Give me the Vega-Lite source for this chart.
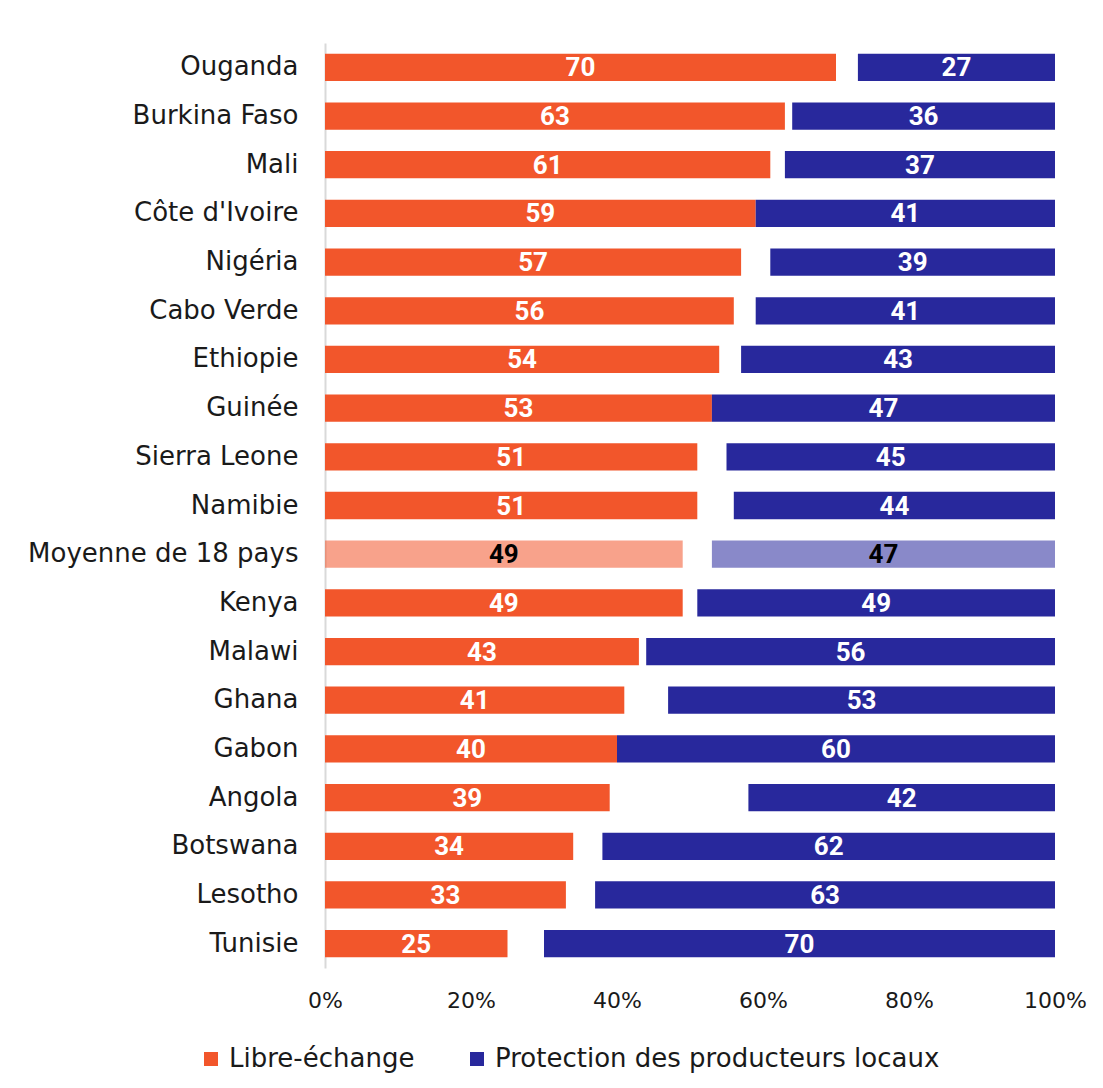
{
  "$schema": "https://vega.github.io/schema/vega-lite/v6.json",
  "width": 730,
  "height": 925,
  "autosize": {"type": "none"},
  "padding": {"left": 325, "top": 43, "right": 48, "bottom": 120},
  "background": "white",
  "config": {
    "view": {"stroke": null},
    "font": "DejaVu Sans"
  },
  "data": {
    "values": [
      {"pays": "Ouganda", "libre": 70, "protection": 27},
      {"pays": "Burkina Faso", "libre": 63, "protection": 36},
      {"pays": "Mali", "libre": 61, "protection": 37},
      {"pays": "Côte d'Ivoire", "libre": 59, "protection": 41},
      {"pays": "Nigéria", "libre": 57, "protection": 39},
      {"pays": "Cabo Verde", "libre": 56, "protection": 41},
      {"pays": "Ethiopie", "libre": 54, "protection": 43},
      {"pays": "Guinée", "libre": 53, "protection": 47},
      {"pays": "Sierra Leone", "libre": 51, "protection": 45},
      {"pays": "Namibie", "libre": 51, "protection": 44},
      {"pays": "Moyenne de 18 pays", "libre": 49, "protection": 47},
      {"pays": "Kenya", "libre": 49, "protection": 49},
      {"pays": "Malawi", "libre": 43, "protection": 56},
      {"pays": "Ghana", "libre": 41, "protection": 53},
      {"pays": "Gabon", "libre": 40, "protection": 60},
      {"pays": "Angola", "libre": 39, "protection": 42},
      {"pays": "Botswana", "libre": 34, "protection": 62},
      {"pays": "Lesotho", "libre": 33, "protection": 63},
      {"pays": "Tunisie", "libre": 25, "protection": 70}
    ]
  },
  "transform": [
    {"fold": ["libre", "protection"], "as": ["key", "valeur"]},
    {"calculate": "datum.key === 'libre' ? 'Libre-échange' : 'Protection des producteurs locaux'", "as": "serie"},
    {"calculate": "datum.key === 'libre' ? 0 : 100 - datum.valeur", "as": "debut"},
    {"calculate": "datum.key === 'libre' ? datum.valeur : 100", "as": "fin"},
    {"calculate": "(datum.debut + datum.fin) / 2", "as": "milieu"},
    {"calculate": "datum.pays === 'Moyenne de 18 pays'", "as": "moyenne"}
  ],
  "encoding": {
    "y": {
      "field": "pays",
      "type": "nominal",
      "sort": null,
      "scale": {"paddingInner": 0.44, "paddingOuter": 0.22},
      "axis": {
        "title": null,
        "ticks": false,
        "domainColor": "#d9d9d9",
        "domainWidth": 2,
        "labelFontSize": 26,
        "labelColor": "#1a1a1a",
        "labelPadding": 27,
        "labelLimit": 400
      }
    }
  },
  "layer": [
    {
      "mark": {"type": "bar"},
      "encoding": {
        "x": {
          "field": "debut",
          "type": "quantitative",
          "scale": {"domain": [0, 100], "nice": false},
          "axis": {
            "title": null,
            "values": [0, 20, 40, 60, 80, 100],
            "labelExpr": "datum.value + '%'",
            "domain": false,
            "ticks": false,
            "grid": false,
            "labelFontSize": 22,
            "labelColor": "#1a1a1a",
            "labelPadding": 22,
            "labelFlush": false
          }
        },
        "x2": {"field": "fin"},
        "color": {
          "field": "serie",
          "type": "nominal",
          "scale": {"domain": ["Libre-échange", "Protection des producteurs locaux"], "range": ["#F2562B", "#28289C"]},
          "legend": {
            "title": null,
            "orient": "none",
            "legendX": -127,
            "legendY": 1003,
            "direction": "horizontal",
            "symbolType": "square",
            "symbolSize": 196,
            "symbolStrokeWidth": 0,
            "symbolOpacity": 1,
            "labelFontSize": 26,
            "labelColor": "#1a1a1a",
            "labelOffset": 5,
            "columnPadding": 49,
            "labelLimit": 600
          }
        },
        "opacity": {"condition": {"test": "datum.moyenne", "value": 0.55}, "value": 1}
      }
    },
    {
      "mark": {"type": "text", "font": "Roboto", "fontWeight": "bold", "fontSize": 26, "baseline": "middle", "align": "center", "dy": 1},
      "encoding": {
        "x": {"field": "milieu", "type": "quantitative"},
        "text": {"field": "valeur", "type": "quantitative"},
        "color": {"condition": {"test": "datum.moyenne", "value": "#000000"}, "value": "#ffffff"}
      }
    }
  ]
}
